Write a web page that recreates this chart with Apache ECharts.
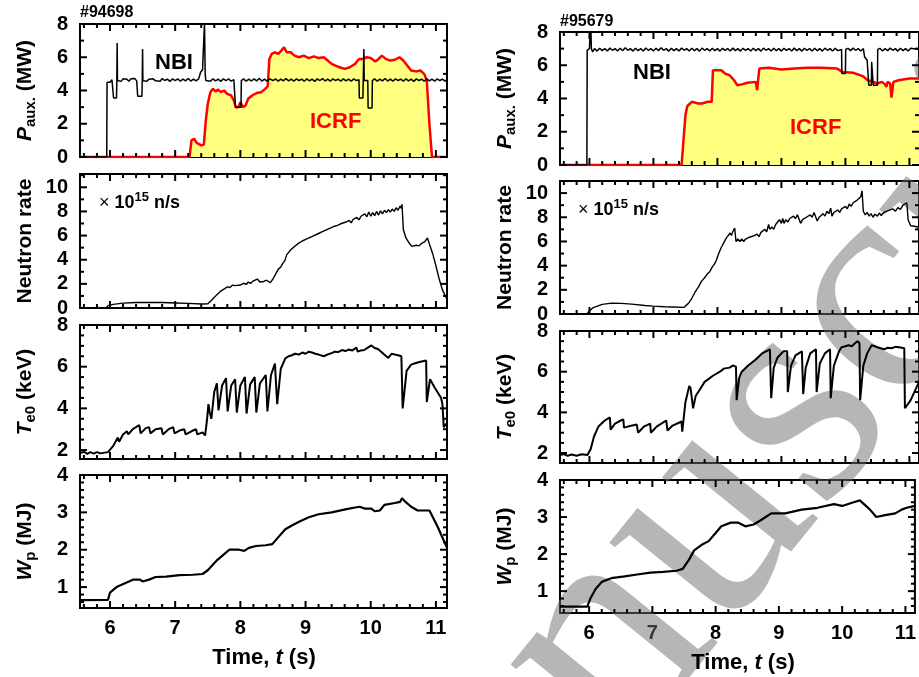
<!DOCTYPE html>
<html>
<head>
<meta charset="utf-8">
<script src="https://cdn.jsdelivr.net/npm/echarts@6/dist/echarts.min.js"></script>
<style>
  html, body { margin: 0; padding: 0; background: #fff; }
  #main { width: 919px; height: 677px; }
</style>
</head>
<body>
<div id="main"></div>
<script>
// shot #94698 (left column)
var nbiA = [[5.54,0],[5.95,0],[5.955,4.5],[5.98,4.6],[6.0,4.5],[6.03,4.65],[6.05,4.6],[6.055,3.55],[6.1,3.55],[6.105,4.6],[6.11,6.85],[6.115,4.6],[6.14,4.7],[6.17,4.55],[6.2,4.7],[6.23,4.58],[6.26,4.68],[6.29,4.55],[6.32,4.7],[6.35,4.6],[6.38,4.72],[6.41,4.58],[6.42,4.65],[6.425,3.65],[6.49,3.65],[6.495,4.6],[6.5,6.5],[6.505,4.6],[6.53,4.7],[6.56,4.55],[6.6,4.68],[6.63,4.56],[6.66,4.7],[6.7,4.58],[6.73,4.7],[6.77,4.55],[6.8,4.72],[6.84,4.6],[6.88,4.68],[6.92,4.55],[6.96,4.7],[7.0,4.6],[7.04,4.7],[7.08,4.56],[7.12,4.68],[7.16,4.58],[7.2,4.72],[7.24,4.57],[7.28,4.68],[7.32,4.58],[7.36,4.7],[7.38,4.65],[7.39,5.1],[7.42,5.25],[7.44,5.15],[7.45,8.1],[7.46,5.0],[7.47,4.6],[7.5,4.7],[7.54,4.56],[7.58,4.7],[7.62,4.58],[7.66,4.68],[7.7,4.55],[7.74,4.7],[7.78,4.6],[7.82,4.7],[7.86,4.56],[7.9,4.66],[7.92,4.6],[7.925,3.0],[8.01,3.0],[8.015,4.6],[8.05,4.7],[8.09,4.56],[8.13,4.68],[8.17,4.57],[8.21,4.7],[8.25,4.58],[8.29,4.72],[8.33,4.57],[8.37,4.68],[8.41,4.56],[8.45,4.7],[8.5,4.6],[8.54,4.7],[8.58,4.56],[8.62,4.68],[8.66,4.58],[8.7,4.72],[8.74,4.58],[8.78,4.68],[8.82,4.56],[8.86,4.7],[8.9,4.6],[8.94,4.68],[8.98,4.56],[9.02,4.7],[9.06,4.58],[9.1,4.68],[9.14,4.55],[9.18,4.7],[9.22,4.6],[9.26,4.72],[9.3,4.57],[9.34,4.68],[9.38,4.56],[9.42,4.7],[9.46,4.6],[9.5,4.68],[9.54,4.56],[9.58,4.7],[9.62,4.58],[9.66,4.68],[9.7,4.56],[9.74,4.7],[9.78,4.6],[9.82,4.65],[9.825,3.55],[9.88,3.55],[9.885,4.6],[9.895,6.5],[9.9,4.6],[9.93,4.7],[9.955,4.6],[9.96,2.95],[10.02,2.95],[10.025,4.6],[10.06,4.7],[10.1,4.56],[10.14,4.68],[10.18,4.58],[10.22,4.72],[10.26,4.57],[10.3,4.68],[10.34,4.56],[10.38,4.7],[10.42,4.6],[10.46,4.68],[10.5,4.56],[10.54,4.7],[10.58,4.58],[10.62,4.68],[10.66,4.55],[10.7,4.7],[10.74,4.6],[10.78,4.68],[10.82,4.56],[10.86,4.7],[10.9,4.58],[10.94,4.68],[10.98,4.56],[11.02,4.7],[11.06,4.6],[11.1,4.68],[11.14,4.56],[11.17,4.65]];
var icrfA = [[5.54,0],[7.22,0],[7.25,1.0],[7.29,1.1],[7.33,0.85],[7.4,0.7],[7.44,0.75],[7.47,2.2],[7.5,3.2],[7.54,3.9],[7.58,4.1],[7.62,3.95],[7.66,4.05],[7.7,3.9],[7.75,4.0],[7.8,3.8],[7.86,3.7],[7.9,3.4],[7.93,3.0],[7.97,3.0],[8.0,3.3],[8.04,3.0],[8.08,3.1],[8.12,3.5],[8.18,3.7],[8.25,3.85],[8.32,3.9],[8.38,4.1],[8.42,4.25],[8.445,5.9],[8.48,6.2],[8.53,6.3],[8.58,6.2],[8.63,6.4],[8.67,6.6],[8.71,6.3],[8.77,6.3],[8.83,6.1],[8.9,6.0],[8.97,6.1],[9.05,5.95],[9.13,6.05],[9.2,5.95],[9.28,6.0],[9.34,5.8],[9.4,5.6],[9.46,5.5],[9.52,5.4],[9.6,5.3],[9.68,5.4],[9.76,5.6],[9.82,5.9],[9.88,5.9],[9.94,6.0],[10.0,5.95],[10.07,5.75],[10.12,5.9],[10.17,6.1],[10.23,5.9],[10.3,5.8],[10.37,5.85],[10.44,6.0],[10.5,5.8],[10.56,5.5],[10.62,5.2],[10.7,5.15],[10.76,5.2],[10.82,5.0],[10.86,4.6],[10.9,2.0],[10.94,0],[11.17,0]];
var neutA = [[5.54,0],[5.94,0],[5.97,0.2],[6.05,0.3],[6.2,0.4],[6.4,0.45],[6.6,0.45],[6.8,0.45],[7.0,0.42],[7.2,0.38],[7.4,0.33],[7.5,0.35],[7.55,0.6],[7.62,1.0],[7.7,1.4],[7.76,1.6],[7.8,1.75],[7.84,1.7],[7.88,1.9],[7.92,1.85],[7.95,2.0],[8.0,1.9],[8.05,2.05],[8.09,1.95],[8.12,2.15],[8.16,2.05],[8.2,2.25],[8.23,2.15],[8.26,2.4],[8.3,2.15],[8.33,2.3],[8.36,2.2],[8.4,2.3],[8.43,2.2],[8.46,2.1],[8.5,2.4],[8.54,2.8],[8.58,3.2],[8.62,3.4],[8.65,3.7],[8.68,3.9],[8.71,4.4],[8.74,4.5],[8.77,4.8],[8.8,4.85],[8.83,5.1],[8.86,5.05],[8.89,5.35],[8.92,5.3],[8.95,5.55],[8.98,5.45],[9.01,5.7],[9.04,5.6],[9.07,5.85],[9.1,5.75],[9.13,6.0],[9.16,5.9],[9.19,6.15],[9.22,6.05],[9.25,6.3],[9.28,6.2],[9.31,6.45],[9.34,6.35],[9.37,6.6],[9.4,6.45],[9.43,6.75],[9.46,6.6],[9.49,6.85],[9.52,6.7],[9.55,7.0],[9.58,6.85],[9.61,7.1],[9.64,6.95],[9.67,7.25],[9.7,7.05],[9.73,7.35],[9.76,7.2],[9.79,7.5],[9.82,7.3],[9.85,7.6],[9.88,7.45],[9.91,7.8],[9.94,7.55],[9.97,7.95],[10.0,7.6],[10.03,7.9],[10.06,7.65],[10.09,8.0],[10.12,7.7],[10.15,8.05],[10.18,7.8],[10.21,8.1],[10.24,7.9],[10.27,8.15],[10.3,7.95],[10.33,8.2],[10.36,8.0],[10.39,8.3],[10.42,8.1],[10.45,8.45],[10.47,8.25],[10.48,8.6],[10.5,6.5],[10.54,5.8],[10.6,5.3],[10.63,5.1],[10.66,5.05],[10.7,5.2],[10.74,5.15],[10.78,5.35],[10.83,5.5],[10.87,5.8],[10.9,5.3],[10.95,4.5],[11.0,3.5],[11.05,2.4],[11.1,1.5],[11.17,0.7]];
var teA = [[5.54,1.85],[5.6,1.92],[5.65,1.82],[5.7,1.9],[5.75,1.83],[5.8,1.9],[5.85,1.84],[5.97,1.9],[6.05,2.2],[6.12,2.6],[6.14,2.4],[6.2,2.75],[6.26,2.9],[6.28,2.75],[6.35,3.0],[6.45,3.2],[6.47,2.8],[6.55,3.05],[6.6,3.1],[6.62,2.8],[6.7,3.0],[6.79,3.05],[6.81,2.75],[6.9,3.0],[6.97,3.1],[6.99,2.8],[7.08,2.95],[7.14,3.0],[7.16,2.75],[7.25,2.9],[7.32,3.0],[7.34,2.75],[7.42,2.85],[7.46,2.7],[7.49,3.5],[7.51,4.2],[7.53,3.8],[7.555,3.5],[7.6,4.8],[7.64,5.2],[7.665,3.9],[7.72,5.1],[7.78,5.45],[7.805,3.85],[7.86,5.1],[7.92,5.4],[7.945,3.8],[8.0,5.1],[8.07,5.5],[8.095,3.75],[8.15,5.15],[8.22,5.5],[8.245,3.8],[8.3,5.2],[8.39,5.6],[8.415,3.85],[8.47,5.6],[8.53,6.15],[8.565,4.2],[8.62,5.9],[8.69,6.4],[8.74,6.5],[8.79,6.55],[8.84,6.62],[8.9,6.58],[8.95,6.68],[9.0,6.62],[9.05,6.72],[9.1,6.68],[9.15,6.62],[9.2,6.58],[9.28,6.5],[9.35,6.6],[9.4,6.65],[9.45,6.72],[9.5,6.7],[9.56,6.8],[9.61,6.75],[9.66,6.82],[9.72,6.78],[9.75,6.85],[9.78,6.92],[9.8,6.72],[9.85,6.78],[9.9,6.8],[9.95,6.9],[10.01,7.02],[10.06,6.9],[10.11,6.85],[10.16,6.72],[10.22,6.55],[10.27,6.42],[10.32,6.62],[10.37,6.58],[10.42,6.55],[10.47,6.5],[10.49,4.0],[10.55,5.8],[10.62,6.1],[10.67,6.15],[10.72,6.2],[10.78,6.25],[10.85,6.3],[10.86,4.3],[10.91,5.4],[10.98,5.0],[11.08,4.5],[11.1,4.2],[11.12,3.1],[11.17,3.3]];
var wpA = [[5.54,0.65],[5.97,0.66],[6.0,0.85],[6.1,1.0],[6.23,1.1],[6.36,1.2],[6.46,1.2],[6.5,1.15],[6.6,1.2],[6.7,1.27],[6.86,1.28],[7.07,1.32],[7.27,1.33],[7.42,1.35],[7.5,1.45],[7.63,1.7],[7.73,1.85],[7.83,2.0],[7.98,2.0],[8.06,1.97],[8.13,2.05],[8.24,2.1],[8.39,2.12],[8.49,2.15],[8.59,2.35],[8.69,2.55],[8.79,2.65],[8.9,2.75],[9.05,2.87],[9.2,2.95],[9.4,3.0],[9.61,3.08],[9.76,3.13],[9.83,3.15],[9.91,3.1],[10.01,3.1],[10.06,3.03],[10.14,3.05],[10.21,3.2],[10.37,3.25],[10.45,3.28],[10.48,3.38],[10.52,3.3],[10.62,3.15],[10.72,3.05],[10.83,3.05],[10.9,3.05],[10.93,2.95],[11.03,2.6],[11.17,2.05]];

// shot #95679 (right column)
var nbiB = [[5.54,0],[5.96,0],[5.965,6.9],[6.0,7.0],[6.02,8.6],[6.03,7.0],[6.05,6.8],[6.08,7.0],[6.12,6.85],[6.16,7.02],[6.2,6.88],[6.24,7.0],[6.28,6.86],[6.32,7.03],[6.36,6.9],[6.4,7.0],[6.44,6.86],[6.48,7.02],[6.52,6.88],[6.56,7.05],[6.6,6.9],[6.64,7.0],[6.68,6.85],[6.72,7.02],[6.76,6.88],[6.8,7.0],[6.84,6.86],[6.88,7.03],[6.92,6.9],[6.96,7.0],[7.0,6.86],[7.04,7.02],[7.08,6.88],[7.12,7.05],[7.16,6.9],[7.2,7.0],[7.24,6.85],[7.28,7.02],[7.32,6.88],[7.36,7.0],[7.4,6.86],[7.44,7.03],[7.48,6.9],[7.52,7.0],[7.56,6.86],[7.6,7.02],[7.64,6.88],[7.68,7.0],[7.72,6.85],[7.76,7.03],[7.8,6.9],[7.84,7.0],[7.88,6.86],[7.92,7.02],[7.96,6.88],[8.0,7.0],[8.04,6.85],[8.08,7.02],[8.12,6.9],[8.16,7.0],[8.2,6.86],[8.24,7.03],[8.28,6.88],[8.32,7.0],[8.36,6.85],[8.4,7.02],[8.44,6.9],[8.48,7.0],[8.52,6.86],[8.56,7.02],[8.6,6.88],[8.64,7.0],[8.68,6.85],[8.72,7.03],[8.76,6.9],[8.8,7.0],[8.84,6.86],[8.88,7.02],[8.92,6.88],[8.96,7.0],[9.0,6.85],[9.04,7.02],[9.08,6.9],[9.12,7.0],[9.16,6.86],[9.2,7.03],[9.24,6.88],[9.28,7.0],[9.32,6.85],[9.36,7.02],[9.4,6.9],[9.44,7.0],[9.48,6.86],[9.52,7.02],[9.56,6.88],[9.6,7.0],[9.64,6.85],[9.68,7.03],[9.72,6.9],[9.76,7.0],[9.8,6.86],[9.84,7.02],[9.88,6.88],[9.94,6.95],[9.945,5.5],[10.0,5.5],[10.005,6.95],[10.04,7.02],[10.08,6.88],[10.12,7.03],[10.16,6.9],[10.2,7.0],[10.24,6.86],[10.28,7.0],[10.3,6.5],[10.34,6.3],[10.36,6.2],[10.365,4.8],[10.405,4.8],[10.41,6.2],[10.43,6.2],[10.435,4.8],[10.5,4.8],[10.505,6.95],[10.54,7.02],[10.58,6.86],[10.62,7.0],[10.66,6.88],[10.7,7.03],[10.74,6.9],[10.78,7.0],[10.82,6.85],[10.86,7.02],[10.9,6.88],[10.94,7.0],[10.98,6.86],[11.02,7.02],[11.15,6.95]];
var icrfB = [[5.54,0],[7.44,0],[7.5,3.0],[7.53,3.55],[7.6,3.8],[7.7,3.7],[7.76,3.7],[7.85,3.8],[7.91,3.8],[7.93,5.7],[8.06,5.7],[8.12,5.5],[8.19,5.4],[8.26,5.1],[8.31,4.8],[8.38,4.85],[8.47,4.95],[8.6,5.0],[8.62,4.5],[8.655,5.8],[8.8,5.85],[9.0,5.75],[9.2,5.8],[9.4,5.85],[9.62,5.85],[9.87,5.8],[9.95,5.6],[10.12,5.55],[10.27,5.35],[10.35,5.1],[10.5,4.9],[10.57,5.0],[10.62,4.85],[10.64,4.7],[10.66,5.0],[10.7,4.9],[10.72,4.05],[10.75,5.0],[10.83,5.1],[11.0,5.2],[11.15,5.2]];
var neutB = [[5.54,0],[5.96,0],[6.0,0.25],[6.05,0.5],[6.2,0.8],[6.35,0.9],[6.5,0.88],[6.66,0.82],[6.87,0.7],[7.0,0.65],[7.17,0.6],[7.3,0.58],[7.48,0.55],[7.55,0.9],[7.6,1.3],[7.65,1.8],[7.7,2.2],[7.75,2.7],[7.8,3.0],[7.84,3.3],[7.88,3.5],[7.92,3.9],[7.95,4.1],[7.98,4.4],[8.02,5.0],[8.06,5.5],[8.1,5.9],[8.14,6.3],[8.17,6.4],[8.2,6.7],[8.22,6.5],[8.24,6.8],[8.27,7.1],[8.29,6.0],[8.32,6.2],[8.35,6.0],[8.38,6.2],[8.41,6.0],[8.44,6.2],[8.47,6.1],[8.5,6.35],[8.53,6.2],[8.56,6.45],[8.59,6.3],[8.62,6.6],[8.65,6.4],[8.68,6.75],[8.71,6.6],[8.74,7.0],[8.77,6.8],[8.8,7.4],[8.82,7.0],[8.85,7.2],[8.88,7.0],[8.91,7.4],[8.94,7.3],[8.97,7.8],[9.0,7.5],[9.02,7.9],[9.04,7.5],[9.07,7.8],[9.1,7.6],[9.13,7.9],[9.16,7.75],[9.19,8.1],[9.22,7.9],[9.25,8.2],[9.28,8.05],[9.3,7.5],[9.33,7.8],[9.36,7.7],[9.39,8.0],[9.42,7.85],[9.45,8.2],[9.48,8.0],[9.51,8.4],[9.54,8.3],[9.56,7.7],[9.59,8.0],[9.62,7.95],[9.65,8.3],[9.68,8.1],[9.71,8.5],[9.74,8.3],[9.77,8.75],[9.79,8.1],[9.82,8.4],[9.85,8.3],[9.88,8.6],[9.91,8.4],[9.94,8.7],[9.97,8.55],[10.0,8.9],[10.03,8.7],[10.06,9.1],[10.09,8.9],[10.12,9.2],[10.15,9.05],[10.18,9.4],[10.21,9.25],[10.24,9.7],[10.26,10.2],[10.28,8.5],[10.31,8.2],[10.34,8.4],[10.37,8.1],[10.4,8.3],[10.43,8.0],[10.46,8.25],[10.5,8.1],[10.53,8.35],[10.56,8.15],[10.6,8.4],[10.63,8.25],[10.67,8.55],[10.7,8.4],[10.74,8.7],[10.78,8.5],[10.82,8.8],[10.86,8.65],[10.9,9.0],[10.93,8.85],[10.96,9.2],[10.98,7.8],[11.02,7.3],[11.15,7.2]];
var teB = [[5.54,1.9],[5.6,1.95],[5.66,1.86],[5.72,1.93],[5.8,1.87],[5.88,1.94],[5.97,1.9],[6.02,2.2],[6.07,2.8],[6.14,3.3],[6.24,3.6],[6.32,3.75],[6.33,3.15],[6.4,3.45],[6.49,3.6],[6.53,3.65],[6.54,3.25],[6.6,3.3],[6.74,3.4],[6.76,3.0],[6.85,3.3],[6.95,3.45],[6.96,3.0],[7.05,3.3],[7.2,3.6],[7.22,3.1],[7.3,3.35],[7.44,3.55],[7.45,3.05],[7.5,4.5],[7.56,5.3],[7.58,5.2],[7.62,4.2],[7.66,4.8],[7.7,5.0],[7.8,5.5],[7.93,5.8],[8.04,6.0],[8.1,6.15],[8.19,6.2],[8.24,6.3],[8.29,6.25],[8.3,4.6],[8.34,5.7],[8.38,6.0],[8.48,6.3],[8.6,6.6],[8.7,6.9],[8.82,7.1],[8.84,4.7],[8.88,6.2],[8.94,6.7],[9.03,7.0],[9.09,7.0],[9.1,5.0],[9.15,6.3],[9.22,6.8],[9.32,7.0],[9.34,4.9],[9.38,6.2],[9.45,6.9],[9.54,7.1],[9.55,5.0],[9.6,6.4],[9.68,6.9],[9.76,7.1],[9.77,4.7],[9.82,6.3],[9.9,7.0],[9.94,7.2],[10.0,7.25],[10.05,7.3],[10.1,7.25],[10.15,7.4],[10.19,7.5],[10.22,7.4],[10.23,4.6],[10.28,6.3],[10.34,6.9],[10.41,7.3],[10.46,7.25],[10.5,7.2],[10.55,7.15],[10.61,7.1],[10.66,7.18],[10.72,7.15],[10.78,7.22],[10.84,7.2],[10.92,7.15],[10.93,4.2],[11.02,4.6],[11.15,5.5]];
var wpB = [[5.54,0.58],[5.97,0.58],[6.02,0.8],[6.1,1.05],[6.2,1.25],[6.35,1.35],[6.56,1.4],[6.76,1.45],[6.97,1.5],[7.17,1.52],[7.38,1.55],[7.48,1.6],[7.58,1.85],[7.66,2.1],[7.78,2.25],[7.89,2.35],[7.99,2.55],[8.09,2.75],[8.24,2.85],[8.35,2.85],[8.47,2.75],[8.6,2.8],[8.7,2.9],[8.88,3.1],[9.1,3.1],[9.36,3.2],[9.61,3.25],[9.87,3.35],[10.0,3.3],[10.18,3.4],[10.28,3.45],[10.44,3.2],[10.54,3.0],[10.68,3.05],[10.84,3.1],[10.94,3.2],[11.02,3.25],[11.15,3.3]];

// tick labels
var xLabels = [6, 7, 8, 9, 10, 11];
var yLabelsP = [0, 2, 4, 6, 8];
var yLabelsN = [0, 2, 4, 6, 8, 10];
var yLabelsT = [2, 4, 6, 8];
var yLabelsW = [1, 2, 3, 4];

var FONT = '"Liberation Sans", Arial, sans-serif';
var XMIN = 5.54, GW = 367;

// panel layout (px) and axis ranges
var panels = [
    {left: 80,  top: 24,  h: 133, xmax: 11.17, ymin: 0,    ymax: 8,    major: yLabelsP, step: 1},
    {left: 80,  top: 174, h: 134, xmax: 11.17, ymin: 0,    ymax: 11.1, major: yLabelsN, step: 1},
    {left: 80,  top: 325, h: 134, xmax: 11.17, ymin: 1.57, ymax: 8,    major: yLabelsT, step: 0.5},
    {left: 80,  top: 475, h: 133, xmax: 11.17, ymin: 0.44, ymax: 4,    major: yLabelsW, step: 0.2, bottom: true},
    {left: 560, top: 32,  h: 133, xmax: 11.15, ymin: 0,    ymax: 8,    major: yLabelsP, step: 1},
    {left: 560, top: 181, h: 133, xmax: 11.15, ymin: 0,    ymax: 11.0, major: yLabelsN, step: 1},
    {left: 560, top: 331, h: 132, xmax: 11.15, ymin: 1.51, ymax: 8,    major: yLabelsT, step: 0.5},
    {left: 560, top: 480, h: 133, xmax: 11.15, ymin: 0.41, ymax: 4,    major: yLabelsW, step: 0.2, bottom: true}
];

function steps(a, b, s) {
    var out = [];
    var n = Math.floor((b - a) / s + 1e-6);
    for (var i = 0; i <= n; i++) out.push(Math.round((a + i * s) * 1000) / 1000);
    return out;
}
var xTicks = steps(5.6, 11.2, 0.2);

// inward ticks on all four sides: [x, y, side, length]; side 0 bottom, 1 top, 2 left, 3 right
function tickData(p) {
    var out = [];
    xTicks.forEach(function (v) {
        if (v < XMIN || v > p.xmax) return;
        var L = Math.abs(v - Math.round(v)) < 1e-6 ? 7 : 4;
        out.push([v, p.ymin, 0, L], [v, p.ymax, 1, L]);
    });
    steps(Math.ceil(p.ymin / p.step - 1e-6) * p.step, p.ymax, p.step).forEach(function (v) {
        var L = p.major.indexOf(v) >= 0 ? 7 : 4;
        out.push([XMIN, v, 2, L], [p.xmax, v, 3, L]);
    });
    return out;
}
var DX = [0, 0, 1, -1], DY = [-1, 1, 0, 0];
function renderTick(params, api) {
    var pt = api.coord([api.value(0), api.value(1)]);
    var side = api.value(2), L = api.value(3);
    return {
        type: 'line',
        shape: {x1: pt[0], y1: pt[1], x2: pt[0] + DX[side] * L, y2: pt[1] + DY[side] * L},
        style: {stroke: '#000', lineWidth: 2}
    };
}

var grids = [], xAxes = [], yAxes = [], series = [];
panels.forEach(function (p, g) {
    grids.push({left: p.left, top: p.top, width: GW, height: p.h, show: true,
        borderColor: '#000', borderWidth: 2});
    xAxes.push({gridIndex: g, type: 'value', min: XMIN, max: p.xmax,
        axisLine: {show: false}, axisTick: {show: false}, splitLine: {show: false},
        axisLabel: {show: !!p.bottom, customValues: xLabels, color: '#000',
            fontFamily: FONT, fontWeight: 'bold', fontSize: 20, margin: 10}});
    yAxes.push({gridIndex: g, type: 'value', min: p.ymin, max: p.ymax,
        axisLine: {show: false}, axisTick: {show: false}, splitLine: {show: false},
        axisLabel: {customValues: p.major, color: '#000',
            fontFamily: FONT, fontWeight: 'bold', fontSize: 20, margin: 12}});
});

function line(g, data, color, width, area) {
    var s = {
        type: 'line', xAxisIndex: g, yAxisIndex: g, data: data,
        showSymbol: false, symbol: 'none', animation: false, silent: true,
        lineStyle: {color: color, width: width}, z: area ? 2 : 4
    };
    if (area) s.areaStyle = {color: '#ffff80', opacity: 1};
    return s;
}

series.push(
    line(0, icrfA, '#ff0000', 2.5, true), line(0, nbiA, '#000', 1.5),
    line(1, neutA, '#000', 1.4), line(2, teA, '#000', 2), line(3, wpA, '#000', 2.2),
    line(4, icrfB, '#ff0000', 2.5, true), line(4, nbiB, '#000', 1.5),
    line(5, neutB, '#000', 1.4), line(6, teB, '#000', 2), line(7, wpB, '#000', 2.2)
);
panels.forEach(function (p, g) {
    series.push({type: 'custom', coordinateSystem: 'cartesian2d', xAxisIndex: g, yAxisIndex: g,
        data: tickData(p), renderItem: renderTick, encode: {x: 0, y: 1},
        silent: true, animation: false, z: 8});
});

var rich = {
    b: {fontFamily: FONT, fontWeight: 'bold', fontSize: 21, fill: '#000'},
    i: {fontFamily: FONT, fontWeight: 'bold', fontStyle: 'italic', fontSize: 21, fill: '#000'},
    sub: {fontFamily: FONT, fontWeight: 'bold', fontSize: 15, fill: '#000', padding: [12, 0, 0, 0]},
    sup: {fontFamily: FONT, fontWeight: 'bold', fontSize: 13, fill: '#000', padding: [0, 0, 12, 0]},
    x: {fontFamily: FONT, fontSize: 18, fill: '#000'},
    n: {fontFamily: FONT, fontWeight: 'bold', fontSize: 18, fill: '#000'},
    tb: {fontFamily: FONT, fontWeight: 'bold', fontSize: 22, fill: '#000'},
    ti: {fontFamily: FONT, fontWeight: 'bold', fontStyle: 'italic', fontSize: 22, fill: '#000'}
};

function txt(x, y, text, opt) {
    opt = opt || {};
    return {
        type: 'text', x: x, y: y, rotation: opt.rot || 0, z: 10, silent: true,
        style: {text: text, rich: rich, align: opt.align || 'left', verticalAlign: 'middle',
            fontFamily: FONT, fontWeight: 'bold', fontSize: opt.size || 20, fill: opt.color || '#000'}
    };
}

var yNames = ['{i|P}{sub|aux.}{b| (MW)}', '{b|Neutron rate}', '{i|T}{sub|e0}{b| (keV)}', '{i|W}{sub|p}{b| (MJ)}'];
var graphics = [];
panels.forEach(function (p, g) {
    graphics.push(txt(p.left - 55, p.top + p.h / 2, yNames[g % 4], {rot: Math.PI / 2, align: 'center'}));
});
graphics.push(txt(80, 13, '#94698', {size: 16}));
graphics.push(txt(560, 22, '#95679', {size: 16}));
graphics.push(txt(155, 63, 'NBI', {size: 22}));
graphics.push(txt(310, 122, 'ICRF', {size: 22, color: '#ff0000'}));
graphics.push(txt(633, 73, 'NBI', {size: 22}));
graphics.push(txt(790, 128, 'ICRF', {size: 22, color: '#ff0000'}));
graphics.push(txt(99, 203, '{x|×}{n| 10}{sup|15}{n| n/s}'));
graphics.push(txt(578, 210, '{x|×}{n| 10}{sup|15}{n| n/s}'));
graphics.push(txt(264, 658, '{tb|Time, }{ti|t}{tb| (s)}', {align: 'center'}));
graphics.push(txt(743, 663, '{tb|Time, }{ti|t}{tb| (s)}', {align: 'center'}));

// "Accepted Manuscript" watermark of the source page, above the yellow fill, below the curves
graphics.push({
    type: 'text', x: 745, y: 475, rotation: 51 * Math.PI / 180, z: 3, silent: true,
    style: {text: 'Manuscript', align: 'center', verticalAlign: 'middle',
        fontFamily: '"Liberation Serif", serif', fontSize: 320, fill: 'rgba(110,110,110,0.5)'}
});

var chart = echarts.init(document.getElementById('main'));
chart.setOption({
    animation: false,
    backgroundColor: '#fff',
    grid: grids,
    xAxis: xAxes,
    yAxis: yAxes,
    series: series,
    graphic: graphics
});
</script>
</body>
</html>
